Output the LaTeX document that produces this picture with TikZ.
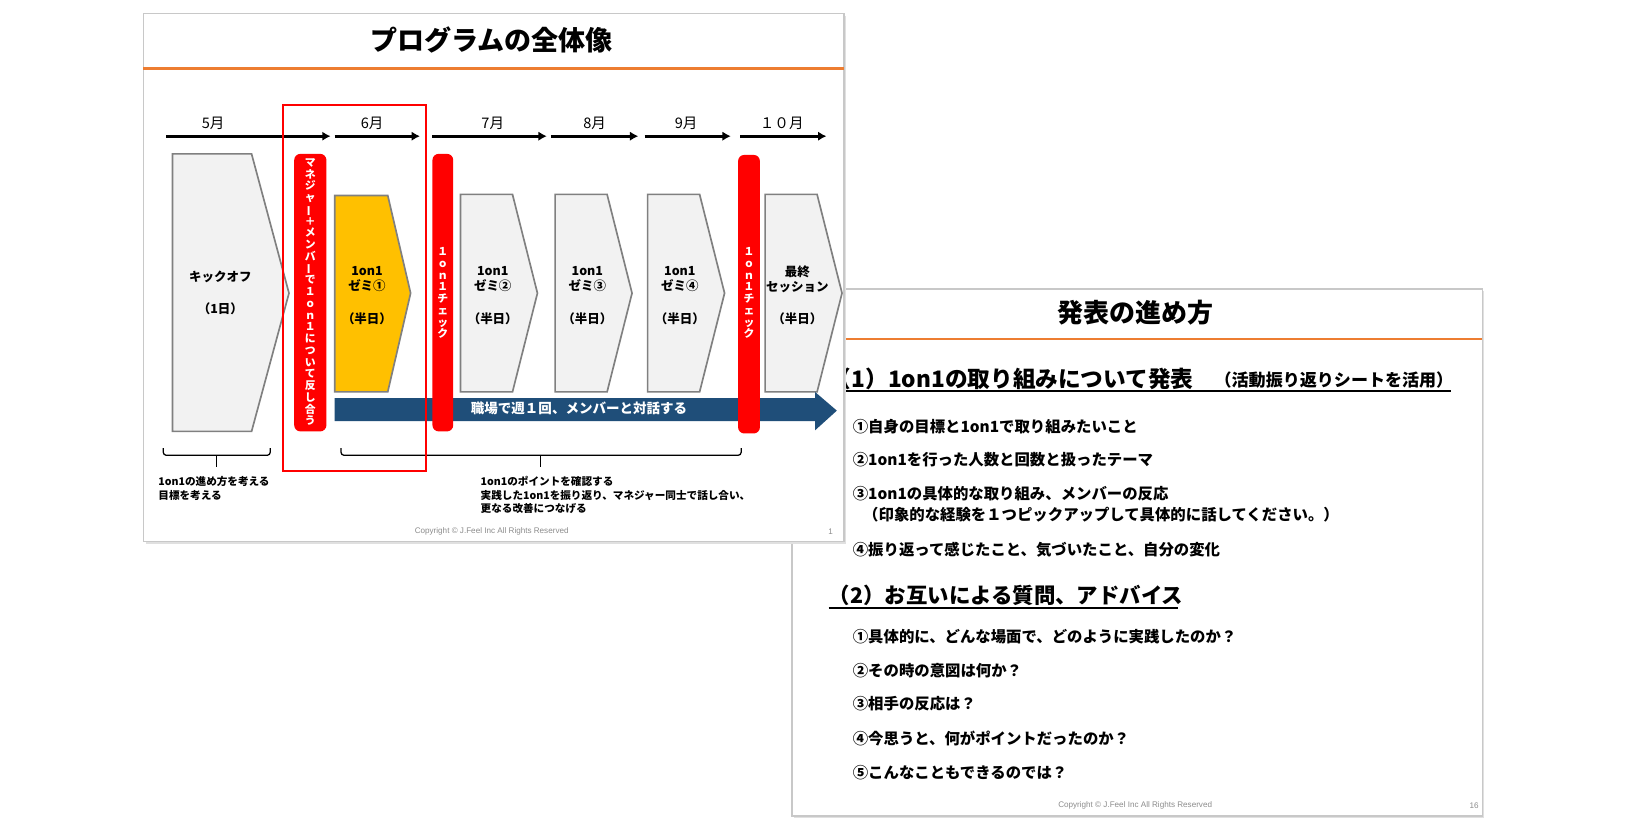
\documentclass[tikz,border=0pt]{standalone}
\usepackage{fontspec}
\usepackage{graphicx}
\setmainfont{Noto Sans CJK JP}
\newfontfamily\cpfont{Liberation Sans}
\usetikzlibrary{arrows.meta}

\definecolor{orangeline}{RGB}{237,125,49}
\definecolor{stepgray}{RGB}{242,242,242}
\definecolor{stepedge}{RGB}{128,128,128}
\definecolor{zemiyellow}{RGB}{255,192,0}
\definecolor{barred}{RGB}{255,0,0}
\definecolor{weekblue}{RGB}{31,78,121}
\definecolor{slideedge}{RGB}{200,200,200}

% Langes-Vokal-Zeichen senkrecht
\newcommand{\vbar}{\rotatebox[origin=c]{90}{ー}}

\begin{document}
\begin{tikzpicture}[x=0.5pt,y=-0.5pt,
  slide/.style={draw=slideedge,line width=0.8pt,fill=white},
  shadow/.style={fill=black!12},
  stepbox/.style={draw=stepedge,line width=0.8pt,fill=stepgray},
  redbar/.style={fill=barred,rounded corners=3pt},
  monthlabel/.style={font=\fontsize{7pt}{8pt}\selectfont},
  monthline/.style={line width=1.3pt,-{Latex[length=4pt,width=4.5pt]}},
  steptext/.style={align=center,inner sep=0pt,font=\fontsize{6pt}{7.5pt}\selectfont\bfseries},
  bartext/.style={align=center,text=white,inner sep=0pt,font=\fontsize{5.2pt}{5.65pt}\selectfont\bfseries},
  notetext/.style={align=left,anchor=north west,inner sep=0pt,font=\fontsize{5.1pt}{6.5pt}\selectfont\bfseries},
  listitem/.style={anchor=west,inner sep=0pt,font=\fontsize{7.4pt}{10pt}\selectfont\bfseries},
  headline/.style={anchor=west,inner sep=0pt,font=\fontsize{10.3pt}{12pt}\selectfont\bfseries},
  copyline/.style={text=black!45,inner sep=0pt,font=\cpfont\fontsize{3.9pt}{4.5pt}\selectfont},
  bracket/.style={line width=0.6pt,rounded corners=1.5pt}]
  \useasboundingbox (0,0) rectangle (1568,798);

  % Folie 2 (hinten)
  \fill[shadow] (764,280) rectangle (1428,787);
  \draw[slide] (762,278) rectangle (1426,785);
  \node[font=\fontsize{12.5pt}{14pt}\selectfont\bfseries] (title2) at (1092,301) {発表の進め方};
  \draw[orangeline,line width=1.2pt] (762,326) -- (1426,326);
  \node[headline,font=\fontsize{10.9pt}{12pt}\selectfont\bfseries] (h1) at (797,364) {（1）1on1の取り組みについて発表};
  \node[anchor=west,inner sep=0pt,font=\fontsize{8.2pt}{10pt}\selectfont\bfseries] (h1sub) at (1168,366) {（活動振り返りシートを活用）};
  \draw[line width=0.7pt] (797,376) -- (1396,376);
  \node[listitem] (a1) at (820,410) {①自身の目標と1on1で取り組みたいこと};
  \node[listitem] (a2) at (820,442) {②1on1を行った人数と回数と扱ったテーマ};
  \node[listitem] (a3) at (820,475) {③1on1の具体的な取り組み、メンバーの反応};
  \node[listitem] (a3b) at (830,495) {（印象的な経験を１つピックアップして具体的に話してください。）};
  \node[listitem] (a4) at (820,529) {④振り返って感じたこと、気づいたこと、自分の変化};
  \node[headline] (h2) at (797,573) {（2）お互いによる質問、アドバイス};
  \draw[line width=0.7pt] (797,585) -- (1133,585);
  \node[listitem] (b1) at (820,612) {①具体的に、どんな場面で、どのように実践したのか？};
  \node[listitem] (b2) at (820,645) {②その時の意図は何か？};
  \node[listitem] (b3) at (820,677) {③相手の反応は？};
  \node[listitem] (b4) at (820,710) {④今思うと、何がポイントだったのか？};
  \node[listitem] (b5) at (820,743) {⑤こんなこともできるのでは？};
  \node[copyline] (cp2) at (1092,775) {Copyright \textcopyright{} J.Feel Inc All Rights Reserved};
  \node[copyline] (pg2) at (1418,775) {16};

  % Folie 1 (vorne)
  \fill[shadow] (140,15) rectangle (814,523);
  \draw[slide] (138,13) rectangle (812,521);
  \node[font=\fontsize{13pt}{15pt}\selectfont\bfseries] (title1) at (473,38) {プログラムの全体像};
  \draw[orangeline,line width=1.2pt] (138,66) -- (812,66);

  % Monate
  \foreach \a/\b/\lx/\lbl/\nm in {160/318/205/5月/m5, 322/404/358/6月/m6, 416/526/474/7月/m7,
      530/614/572/8月/m8, 620/703/660/9月/m9, 712/795/752/１０月/m10} {
    \coordinate (\nm-s) at (\a,131);
    \coordinate (\nm-e) at (\b,131);
    \draw[monthline] (\nm-s) -- (\nm-e);
    \node[monthlabel] (\nm-l) at (\lx,119) {\lbl};
  }

  % Kickoff
  \draw[stepbox] (166,148) -- (242,148) -- (278,282) -- (242,415) -- (166,415) -- cycle;
  \node[steptext] (kick) at (212,282) {キックオフ\\[8pt]（1日）};

  % Zemi 1
  \draw[stepbox,fill=zemiyellow] (322,188) -- (373,188) -- (395,282) -- (373,377) -- (322,377) -- cycle;
  \node[steptext] (z1) at (353,284) {1on1\\ゼミ①\\[8pt]（半日）};

  % Zemi 2-4, Abschluss
  \foreach \x/\nm/\lbl in {443/z2/{1on1\\ゼミ②}, 534/z3/{1on1\\ゼミ③},
      623/z4/{1on1\\ゼミ④}, 736/fin/{最終\\セッション}} {
    \draw[stepbox] (\x,187) -- (\x+50,187) -- (\x+74,282) -- (\x+50,377) -- (\x,377) -- cycle;
    \node[steptext] (\nm) at (\x+31,284) {\lbl\\[8pt]（半日）};
  }

  % Pfeil: woechentlich
  \fill[weekblue] (322,383) -- (784,383) -- (784,377) -- (805,395) -- (784,414) -- (784,405) -- (322,405) -- cycle;
  \node[text=white,font=\fontsize{6.5pt}{8pt}\selectfont\bfseries] (week) at (557,393) {職場で週１回、メンバーと対話する};

  % rote Balken
  \fill[redbar] (283,148) rectangle (314,415);
  \node[bartext] (bar1) at (298.5,281) {マ\\ネ\\ジ\\ャ\\\vbar\\＋\\メ\\ン\\バ\\\vbar\\で\\１\\ｏ\\ｎ\\１\\に\\つ\\い\\て\\反\\し\\合\\う};
  \fill[redbar] (416,148) rectangle (436,415);
  \node[bartext] (bar2) at (426,282) {１\\ｏ\\ｎ\\１\\チ\\ェ\\ッ\\ク};
  \fill[redbar] (710,149) rectangle (731,417);
  \node[bartext] (bar3) at (720.5,282) {１\\ｏ\\ｎ\\１\\チ\\ェ\\ッ\\ク};

  % Klammern
  \draw[bracket] (157,431) |- (208,438) -| (260,431);
  \draw[bracket] (208,438) -- (208,449);
  \draw[bracket] (328,431) |- (520,438) -| (713,431);
  \draw[bracket] (520,438) -- (520,449);
  \node[notetext] (note1) at (152,458) {1on1の進め方を考える\\目標を考える};
  \node[notetext] (note2) at (462,458) {1on1のポイントを確認する\\実践した1on1を振り返り、マネジャー同士で話し合い、\\更なる改善につなげる};

  % Markierung Juni
  \draw[barred,line width=1pt] (272,101) rectangle (410,453);

  \node[copyline] (cp1) at (473,511) {Copyright \textcopyright{} J.Feel Inc All Rights Reserved};
  \node[copyline] (pg1) at (799,511) {1};
\end{tikzpicture}
\end{document}
